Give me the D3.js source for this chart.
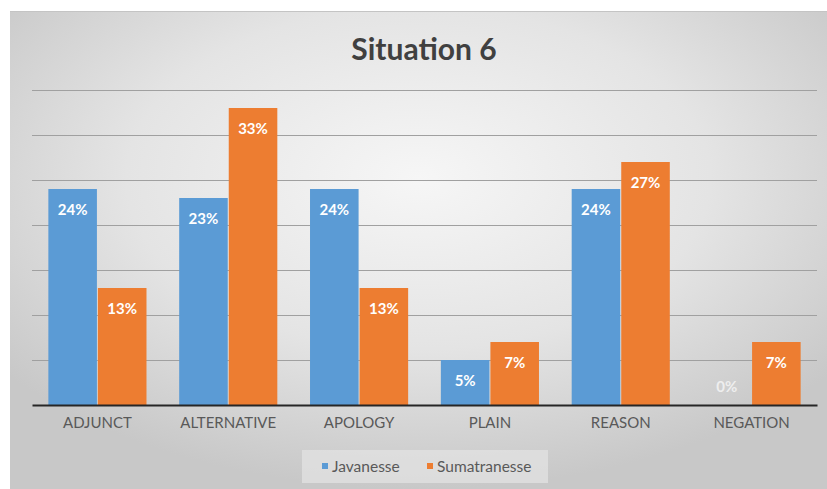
<!DOCTYPE html>
<html>
<head>
<meta charset="utf-8">
<script src="https://cdn.jsdelivr.net/npm/d3@7"></script>
<style>
  body { margin: 0; background: #fff; }
  svg { display: block; }
</style>
</head>
<body>
<div id="chart"></div>
<script>
var categories = ["ADJUNCT", "ALTERNATIVE", "APOLOGY", "PLAIN", "REASON", "NEGATION"];
var series = ["Javanesse", "Sumatranesse"];
var javanesse = [24, 23, 24, 5, 24, 0];
var sumatranesse = [13, 33, 13, 7, 27, 7];
var yTicks = [0, 5, 10, 15, 20, 25, 30, 35];
var colors = ["#5b9bd5", "#ed7d31"];

var width = 827, height = 489;
var margin = { top: 90, right: 10, bottom: 84, left: 32 };
var font = "Lato, 'Open Sans', sans-serif";

var svg = d3.select("#chart").append("svg")
    .attr("width", width)
    .attr("height", height);

// background gradient, lighter in the middle
var defs = svg.append("defs");
var grad = defs.append("radialGradient")
    .attr("id", "bg")
    .attr("cx", "50%").attr("cy", "35%")
    .attr("r", "65%");
grad.append("stop").attr("offset", "0%").attr("stop-color", "#f6f6f6");
grad.append("stop").attr("offset", "55%").attr("stop-color", "#e4e4e4");
grad.append("stop").attr("offset", "100%").attr("stop-color", "#c8c8c8");

svg.append("rect")
    .attr("x", 10).attr("y", 11)
    .attr("width", width - 10).attr("height", height - 11)
    .attr("fill", "url(#bg)");
svg.append("line")
    .attr("x1", 10).attr("x2", width)
    .attr("y1", 11.5).attr("y2", 11.5)
    .attr("stroke", "#c4c4c4");

var x0 = d3.scaleBand()
    .domain(categories)
    .range([margin.left, width - margin.right])
    .paddingInner(0.25)
    .paddingOuter(0.125);

var x1 = d3.scaleBand()
    .domain(series)
    .range([0, x0.bandwidth()])
    .paddingInner(0.02);

var y = d3.scaleLinear()
    .domain([0, 35])
    .range([height - margin.bottom, margin.top]);

// gridlines
svg.append("g")
    .selectAll("line")
    .data(yTicks.slice(1))
    .join("line")
    .attr("x1", margin.left)
    .attr("x2", width - margin.right)
    .attr("y1", function(d) { return Math.round(y(d)) + 0.5; })
    .attr("y2", function(d) { return Math.round(y(d)) + 0.5; })
    .attr("stroke", "#a0a0a0")
    .attr("stroke-width", 1);

var rows = categories.map(function(c, i) {
    return { cat: c, values: [javanesse[i], sumatranesse[i]] };
});

var groups = svg.append("g")
    .selectAll("g")
    .data(rows)
    .join("g")
    .attr("transform", function(d) { return "translate(" + x0(d.cat) + ",0)"; });

groups.selectAll("rect")
    .data(function(d) { return d.values.map(function(v, j) { return { s: series[j], v: v, j: j }; }); })
    .join("rect")
    .attr("x", function(d) { return x1(d.s); })
    .attr("y", function(d) { return y(d.v); })
    .attr("width", x1.bandwidth())
    .attr("height", function(d) { return y(0) - y(d.v); })
    .attr("fill", function(d) { return colors[d.j]; });

groups.selectAll("text")
    .data(function(d) { return d.values.map(function(v, j) { return { s: series[j], v: v, j: j }; }); })
    .join("text")
    .attr("x", function(d) { return x1(d.s) + x1.bandwidth() / 2; })
    .attr("y", function(d) { return d.v > 0 ? y(d.v) + 26 : y(0) - 13; })
    .attr("text-anchor", "middle")
    .attr("font-family", font)
    .attr("font-weight", "bold")
    .attr("font-size", 15)
    .attr("fill", function(d) { return d.v > 0 ? "#ffffff" : "#eeeeee"; })
    .text(function(d) { return d.v + "%"; });

// x axis
var xAxis = svg.append("g")
    .attr("transform", "translate(0," + y(0) + ")")
    .call(d3.axisBottom(x0).tickSize(0).tickPadding(12));
xAxis.select(".domain")
    .attr("stroke", "#262626")
    .attr("stroke-width", 2);
xAxis.selectAll("text")
    .attr("font-family", font)
    .attr("font-size", 15)
    .attr("fill", "#595959");

// title
svg.append("text")
    .attr("x", 424)
    .attr("y", 60)
    .attr("text-anchor", "middle")
    .attr("font-family", font)
    .attr("font-weight", "bold")
    .attr("font-size", 30)
    .attr("fill", "#404040")
    .text("Situation 6");

// legend
var legend = svg.append("g");
legend.append("rect")
    .attr("x", 302).attr("y", 450)
    .attr("width", 246).attr("height", 33)
    .attr("fill", "#e4e4e4")
    .attr("fill-opacity", 0.7);

var legendX = [322, 427];
var items = legend.selectAll("g.item")
    .data(series)
    .join("g")
    .attr("class", "item")
    .attr("transform", function(d, i) { return "translate(" + legendX[i] + ",466)"; });
items.append("rect")
    .attr("x", 0).attr("y", -3)
    .attr("width", 6).attr("height", 6)
    .attr("fill", function(d, i) { return colors[i]; });
items.append("text")
    .attr("x", 10)
    .attr("y", 5.5)
    .attr("font-family", font)
    .attr("font-size", 15.5)
    .attr("fill", "#595959")
    .text(function(d) { return d; });
</script>
</body>
</html>
